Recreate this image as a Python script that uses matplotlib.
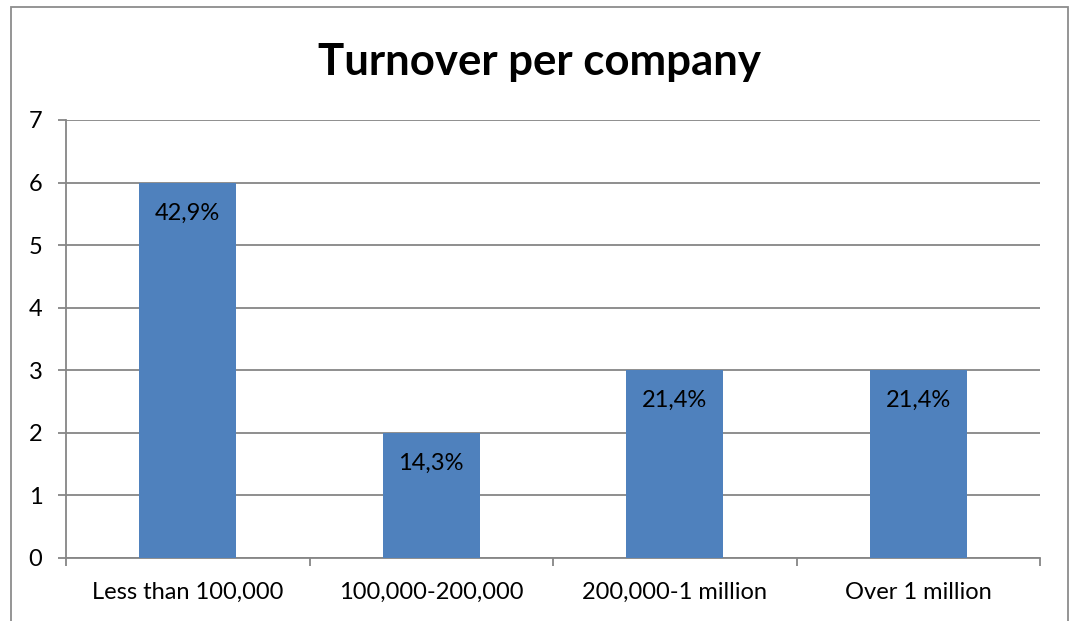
import matplotlib.pyplot as plt
from matplotlib.patches import Rectangle

categories = ['Less than 100,000', '100,000-200,000', '200,000-1 million', 'Over 1 million']
counts = [6, 2, 3, 3]
pct_labels = ['42,9%', '14,3%', '21,4%', '21,4%']
y_ticks = [0, 1, 2, 3, 4, 5, 6, 7]

W, H = 1071, 621
fig = plt.figure(figsize=(W / 100, H / 100), dpi=100)
plt.rcParams['font.family'] = ['Lato', 'DejaVu Sans']

# outer chart border
fig.patches.append(Rectangle((11 / W, -0.05), (1068 - 11) / W, 1.05 - 7 / H,
                             transform=fig.transFigure, fill=False,
                             edgecolor='#8c8c8c', linewidth=1.3))

ax = fig.add_axes([66 / W, (H - 558) / H, (1040 - 66) / W, (558 - 120) / H])
x = list(range(len(categories)))
ax.bar(x, counts, width=0.4, color='#4f81bd', zorder=3)

for xi, c, lab in zip(x, counts, pct_labels):
    ax.annotate(lab, (xi, c), xytext=(0, -22), textcoords='offset points',
                ha='center', va='center', fontsize=17, color='black', zorder=4)

ax.set_xlim(-0.5, len(categories) - 0.5)
ax.set_ylim(0, 7)
ax.set_yticks(y_ticks)
ax.yaxis.grid(True, color='#868686', linewidth=1.3, zorder=0)
ax.set_axisbelow(True)

ax.set_xticks(x)
ax.set_xticklabels(categories)
ax.set_xticks([i - 0.5 for i in range(len(categories) + 1)], minor=True)
ax.tick_params(axis='x', which='major', length=0, pad=17, labelsize=17)
ax.tick_params(axis='x', which='minor', length=6, width=1.3, color='#868686')
ax.tick_params(axis='y', length=6, width=1.3, color='#868686', pad=11, labelsize=17)

for s in ['top', 'right']:
    ax.spines[s].set_visible(False)
for s in ['left', 'bottom']:
    ax.spines[s].set_color('#868686')
    ax.spines[s].set_linewidth(1.3)

fig.text(540 / W, 1 - 62 / H, 'Turnover per company', ha='center', va='center',
         fontsize=31.5, fontweight='bold')

fig.savefig('out.png', dpi=100)
